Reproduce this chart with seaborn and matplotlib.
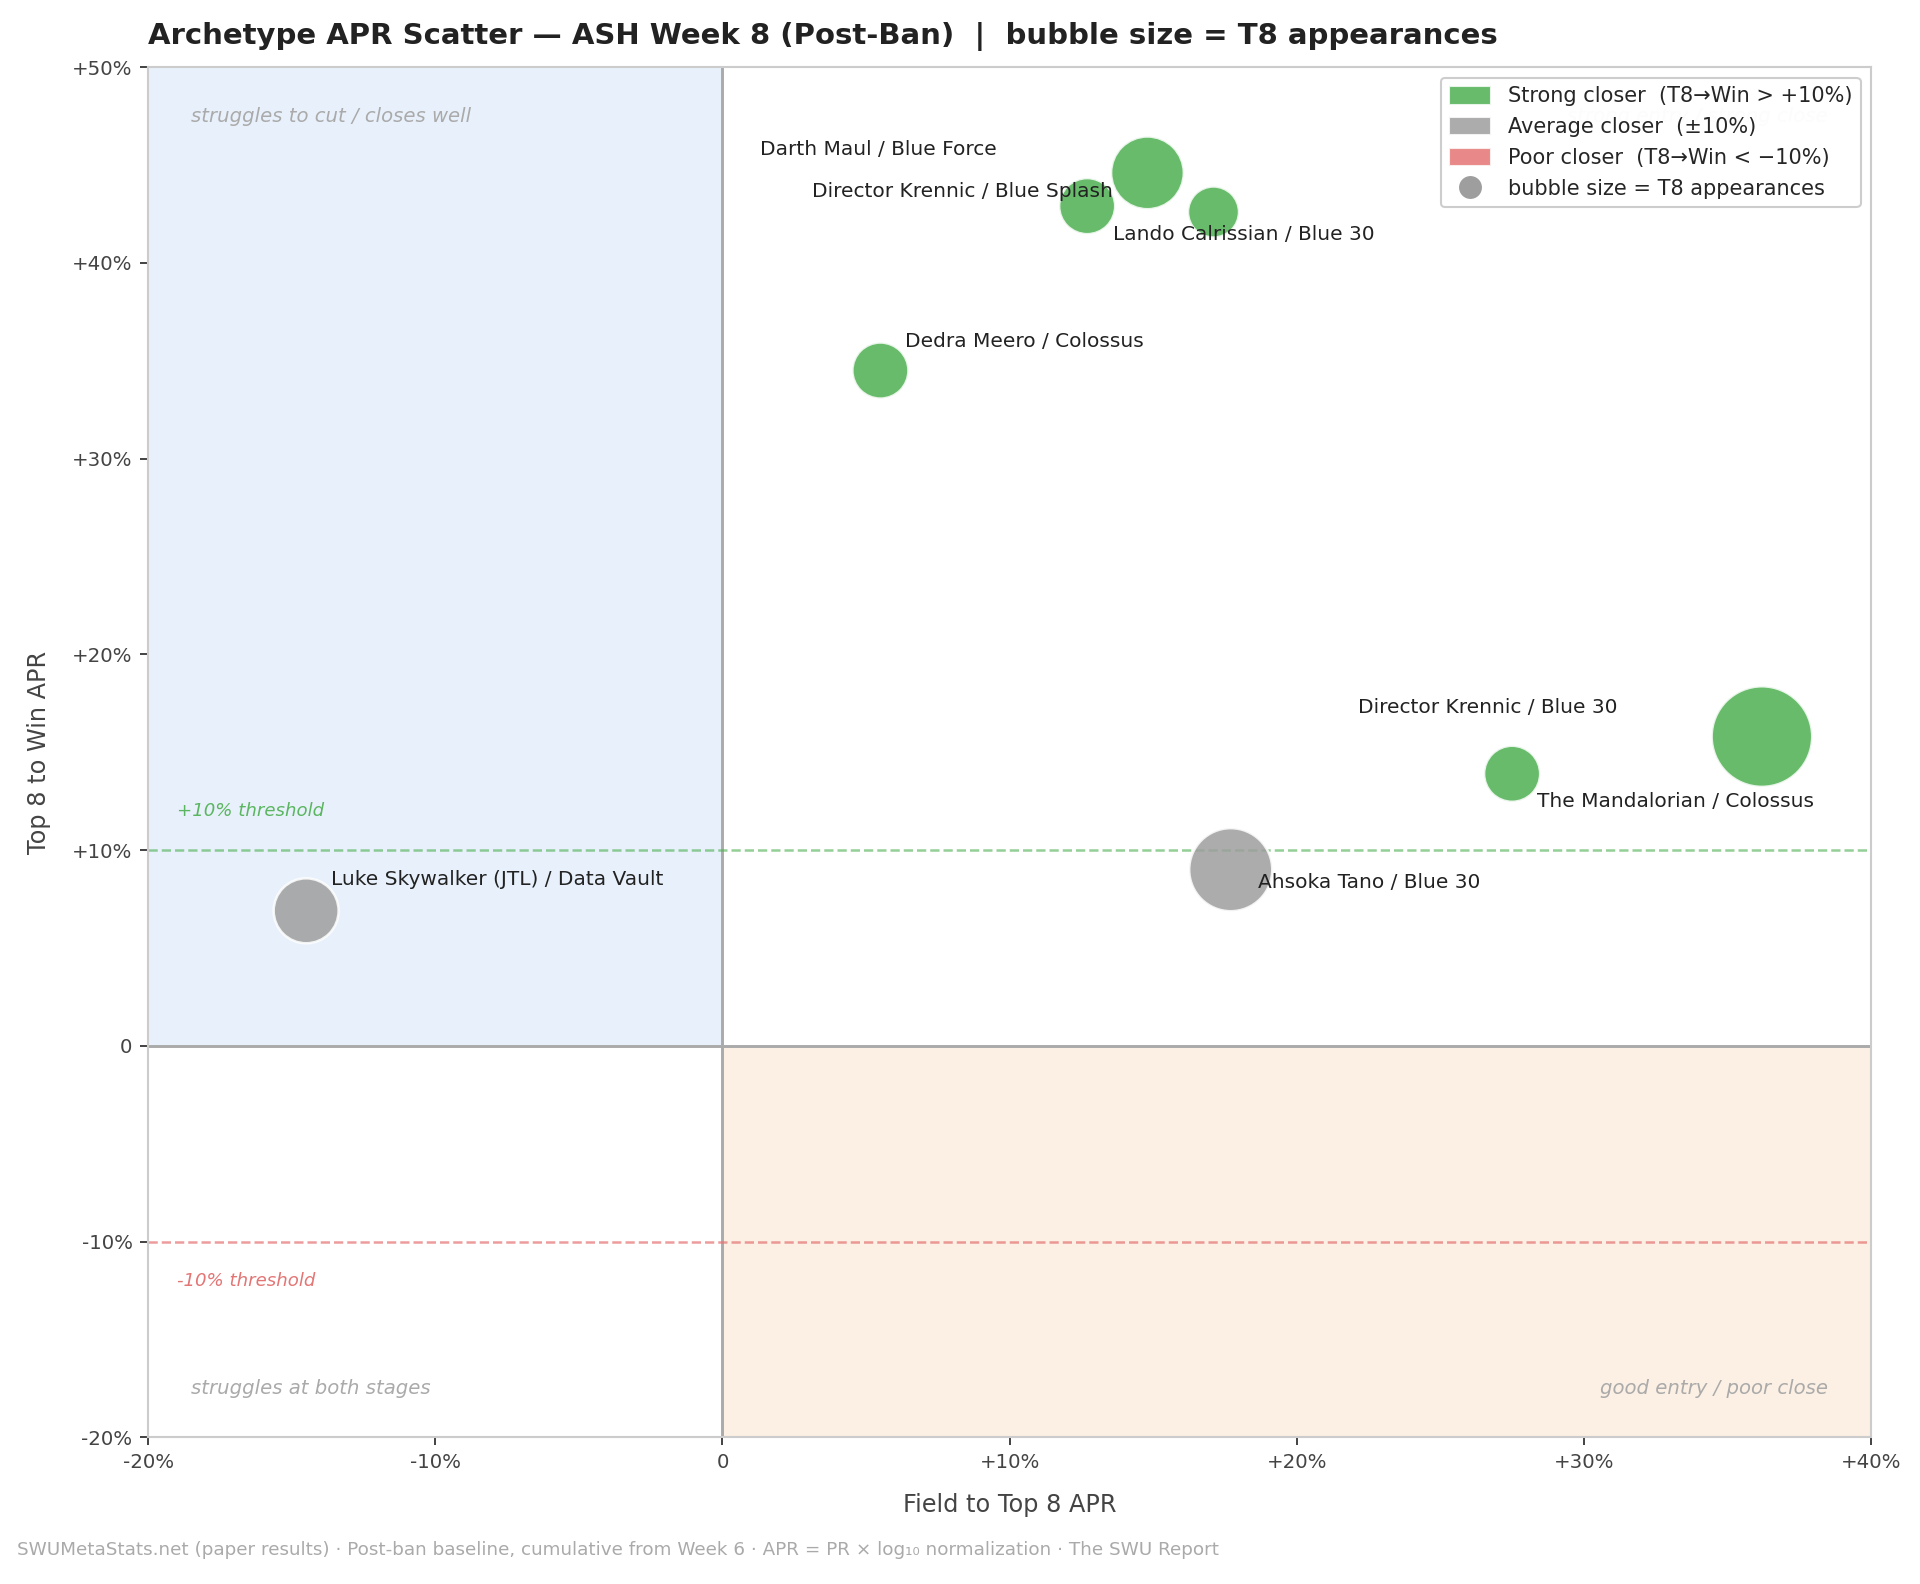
import pandas as pd
import seaborn as sns
import matplotlib.pyplot as plt
from matplotlib.patches import Patch
from matplotlib.lines import Line2D
from matplotlib.ticker import FuncFormatter

# Data
archetypes = [
    "Luke Skywalker (JTL) / Data Vault",
    "Dedra Meero / Colossus",
    "Director Krennic / Blue Splash",
    "Darth Maul / Blue Force",
    "Lando Calrissian / Blue 30",
    "Ahsoka Tano / Blue 30",
    "Director Krennic / Blue 30",
    "The Mandalorian / Colossus",
]
field_to_t8 = [-14.5, 5.5, 12.7, 14.8, 17.1, 17.7, 27.5, 36.2]
t8_to_win = [6.9, 34.5, 42.9, 44.6, 42.6, 9.0, 13.9, 15.8]
t8_appearances = [5, 3, 3, 7, 2, 10, 3, 16]

# label offsets (points) - hand placed
label_dx = [12, 12, -132, -186, -48, 13, -74, -108]
label_dy = [15, 14, 7, 11, -11, -6, 32, -31]

GREEN = "#4caf50"
GRAY = "#9e9e9e"
RED = "#e57373"


def closer_class(v):
    if v > 10:
        return "strong"
    if v < -10:
        return "poor"
    return "average"


df = pd.DataFrame({
    "archetype": archetypes,
    "field_apr": field_to_t8,
    "win_apr": t8_to_win,
    "t8": t8_appearances,
})
df["closer"] = df["win_apr"].apply(closer_class)

sns.set_style("ticks")
plt.rcParams["font.family"] = ["DejaVu Sans"]

fig, ax = plt.subplots(figsize=(12.8, 10.56), dpi=150)
fig.subplots_adjust(left=0.0772, right=0.9745, top=0.9576, bottom=0.0926)

# quadrant shading
ax.axvspan(-20, 0, ymin=2 / 7, ymax=1, color="#e8f1fb", zorder=0, lw=0)
ax.axvspan(0, 40, ymin=0, ymax=2 / 7, color="#fcefe3", zorder=0, lw=0)
ax.axhline(0, color="#aaaaaa", lw=1.4, zorder=1)
ax.axvline(0, color="#aaaaaa", lw=1.4, zorder=1)
ax.axhline(10, color="#4caf50", lw=1.2, ls="--", alpha=0.6, zorder=1)
ax.axhline(-10, color="#e57373", lw=1.2, ls="--", alpha=0.7, zorder=1)

sns.scatterplot(
    data=df, x="field_apr", y="win_apr",
    hue="closer", palette={"strong": GREEN, "average": GRAY, "poor": RED},
    size="t8", sizes=(600, 2330), size_norm=(2, 16),
    alpha=0.85, edgecolor="white", linewidth=1.2,
    legend=False, ax=ax, zorder=3,
)

for i, row in df.iterrows():
    ax.annotate(row["archetype"], (row["field_apr"], row["win_apr"]),
                xytext=(label_dx[i], label_dy[i]), textcoords="offset points",
                ha="left", va="center", fontsize=9.7, color="#222222", zorder=4)

# threshold + quadrant notes
ax.text(-19, 12, "+10% threshold", color="#4caf50", style="italic",
        fontsize=8.7, va="center", alpha=0.9)
ax.text(-19, -12, "-10% threshold", color="#e06666", style="italic",
        fontsize=8.7, va="center", alpha=0.9)
qcol = "#aaaaaa"
ax.text(-18.5, 47.5, "struggles to cut / closes well", color=qcol,
        style="italic", fontsize=9.4, va="center")
ax.text(38.5, 47.5, "strong entry / strong close", color=qcol,
        style="italic", fontsize=9.4, va="center", ha="right")
ax.text(-18.5, -17.5, "struggles at both stages", color=qcol,
        style="italic", fontsize=9.4, va="center")
ax.text(38.5, -17.5, "good entry / poor close", color=qcol,
        style="italic", fontsize=9.4, va="center", ha="right")

ax.set_xlim(-20, 40)
ax.set_ylim(-20, 50)
ax.set_xticks(range(-20, 41, 10))
ax.set_yticks(range(-20, 51, 10))
fmt = FuncFormatter(lambda v, p: "0" if v == 0 else f"{v:+.0f}%".replace("\u2212", "-"))
ax.xaxis.set_major_formatter(fmt)
ax.yaxis.set_major_formatter(fmt)
ax.tick_params(labelsize=9.5, labelcolor="#444444", length=4, color="#222222")
for s in ax.spines.values():
    s.set_color("#cccccc")
    s.set_linewidth(1)

ax.set_xlabel("Field to Top 8 APR", fontsize=11.5, color="#444444", labelpad=10)
ax.set_ylabel("Top 8 to Win APR", fontsize=11.5, color="#444444", labelpad=10)
ax.set_title("Archetype APR Scatter \u2014 ASH Week 8 (Post-Ban)  |  bubble size = T8 appearances",
             loc="left", fontsize=14, fontweight="bold", color="#222222", pad=11)

handles = [
    Patch(facecolor=GREEN, alpha=0.85, label="Strong closer  (T8\u2192Win > +10%)"),
    Patch(facecolor=GRAY, alpha=0.85, label="Average closer  (\u00b110%)"),
    Patch(facecolor=RED, alpha=0.85, label="Poor closer  (T8\u2192Win < \u221210%)"),
    Line2D([0], [0], marker="o", color="w", markerfacecolor=GRAY, markersize=12,
           label="bubble size = T8 appearances"),
]
leg = ax.legend(handles=handles, loc="upper right", fontsize=10, frameon=True,
                framealpha=0.97, edgecolor="#cccccc", labelspacing=0.5,
                handleheight=1.0)
leg.set_zorder(5)

fig.text(0.009, 0.018,
         "SWUMetaStats.net (paper results) \u00b7 Post-ban baseline, cumulative from Week 6 \u00b7 "
         "APR = PR \u00d7 log\u2081\u2080 normalization \u00b7 The SWU Report",
         fontsize=8.8, color="#aaaaaa")

fig.savefig("out.png", dpi=150)
